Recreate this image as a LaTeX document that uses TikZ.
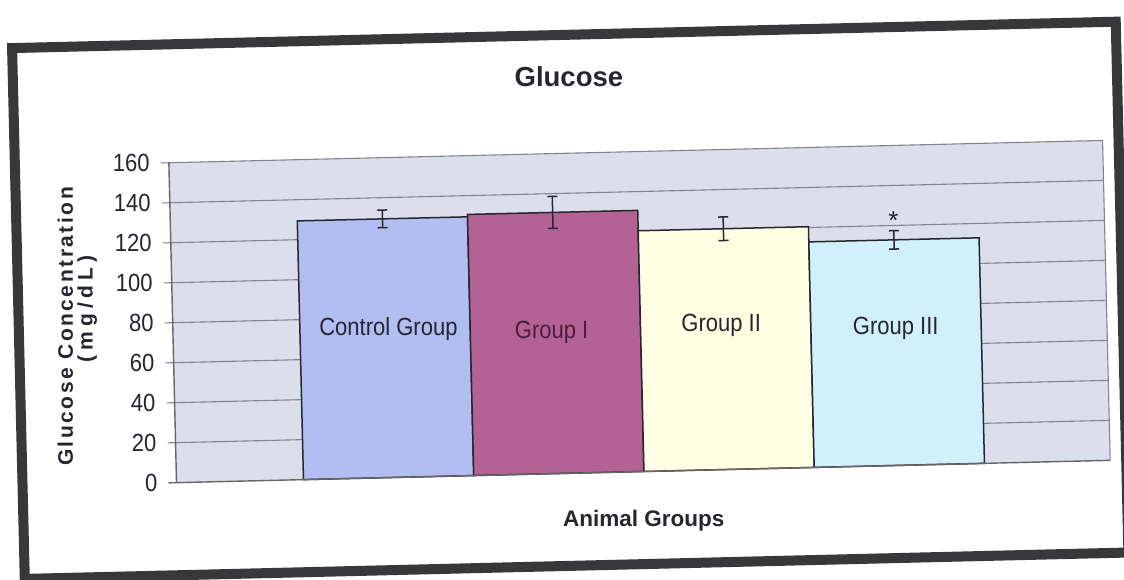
\documentclass[tikz,border=0pt]{standalone}
\usepackage{fontspec}
\usepackage{graphicx}
\setmainfont{Liberation Sans}
\newfontfamily\ylabfont[LetterSpace=12]{Liberation Sans}
\newfontfamily\ylabfontb[LetterSpace=24]{Liberation Sans}
\definecolor{framecol}{RGB}{56,56,58}
\definecolor{plotbg}{RGB}{221,222,235}
\definecolor{gridcol}{RGB}{132,132,142}
\definecolor{ctrlcol}{RGB}{178,189,242}
\definecolor{gonecol}{RGB}{178,98,148}
\definecolor{gtwocol}{RGB}{255,253,226}
\definecolor{gthreecol}{RGB}{208,240,251}
\definecolor{inkcol}{RGB}{38,38,48}
\definecolor{mauveink}{RGB}{80,28,62}
\newcommand{\tall}[1]{\scalebox{1}[1.13]{#1}}
\begin{document}
\begin{tikzpicture}[x=1pt,y=-1pt,
  declare function={yv(\v)=473.4-2*\v;},
  framebox/.style={draw=framecol,line width=10pt},
  gridln/.style={draw=gridcol,line width=1.1pt},
  axisln/.style={draw=gray!80!black,line width=1.4pt},
  barbox/.style={draw=inkcol,line width=1.5pt},
  errbar/.style={draw=inkcol,line width=1.5pt},
  ticklab/.style={font=\fontsize{22}{24}\selectfont,text=inkcol,inner sep=0pt},
  catlab/.style={font=\fontsize{22}{24}\selectfont,text=inkcol,inner sep=0pt},
  titlelab/.style={font=\fontsize{27.5}{30}\selectfont\bfseries,text=inkcol,inner sep=0pt},
  axlab/.style={font=\fontsize{22.5}{25}\selectfont\bfseries,text=inkcol,inner sep=0pt},
  ylab/.style={text=inkcol,inner sep=0pt,rotate=90}]
\useasboundingbox (0,0) rectangle (1124,580);
\fill[white] (0,0) rectangle (1124,580);
\clip (0,0) rectangle (1124,580);
\begin{scope}[rotate around={1.37:(562,290)}]
  % outer frame
  \fill[white] (18,35) rectangle (1122,566);
  \draw[framebox] (18,35) rectangle (1122,566);
  % plot area
  \fill[plotbg] (172,{yv(160)}) rectangle (1106,{yv(0)});
  \foreach \v in {20,40,...,140}
    \draw[gridln] (164,{yv(\v)}) -- (1106,{yv(\v)});
  \draw[gridln] (164,{yv(160)}) -- (1106,{yv(160)}) -- (1106,{yv(0)});
  % bars
  \draw[barbox,fill=ctrlcol]  (299,{yv(0)}) rectangle (469.3,{yv(129.4)});
  \draw[barbox,fill=gonecol]  (469.3,{yv(0)}) rectangle (639.6,{yv(130.6)});
  \draw[barbox,fill=gtwocol]  (639.6,{yv(0)}) rectangle (809.9,{yv(120.4)});
  \draw[barbox,fill=gthreecol](809.9,{yv(0)}) rectangle (980.2,{yv(112.8)});
  % axes
  \draw[axisln] (164,{yv(0)}) -- (1106,{yv(0)});
  \draw[axisln] (172,{yv(160)}) -- (172,{yv(0)});
  % error bars
  \foreach \x/\v/\e in {384.2/129.4/4.4, 554.5/130.6/8, 724.8/120.4/5.9, 895.1/112.8/4.6}{
    \draw[errbar] (\x,{yv(\v-\e)}) -- (\x,{yv(\v+\e)});
    \draw[errbar] (\x-5,{yv(\v-\e)}) -- (\x+5,{yv(\v-\e)});
    \draw[errbar] (\x-5,{yv(\v+\e)}) -- (\x+5,{yv(\v+\e)});
  }
  \node[font=\fontsize{26}{28}\selectfont,text=inkcol,inner sep=0pt,anchor=north] (star) at (895.1,{yv(126.8)}) {*};
  % tick labels
  \foreach \v in {0,20,...,160}
    \node[ticklab,anchor=east] (tick\v) at (153,{yv(\v)}) {\tall{\v}};
  % category labels
  \node[catlab,anchor=base] (lctrl) at (387.4,331) {\tall{Control Group}};
  \node[catlab,anchor=base,text=mauveink] (lgone) at (550.5,338) {\tall{Group I}};
  \node[catlab,anchor=base] (lgtwo) at (720.2,335.3) {\tall{Group II}};
  \node[catlab,anchor=base] (lgthree) at (894.6,342.9) {\tall{Group III}};
  % titles
  \node[titlelab] (title) at (574,76.7) {Glucose};
  \node[axlab,anchor=base] (xtitle) at (638,528) {Animal Groups};
  \node[ylab] (ytitle) at (64.6,314.6) {\fontsize{21}{23}\ylabfont\bfseries\selectfont Glucose Concentration};
  \node[ylab] (yunit) at (87,297.6) {\fontsize{21}{23}\ylabfontb\bfseries\selectfont (mg/dL)};
\end{scope}
\end{tikzpicture}
\end{document}
